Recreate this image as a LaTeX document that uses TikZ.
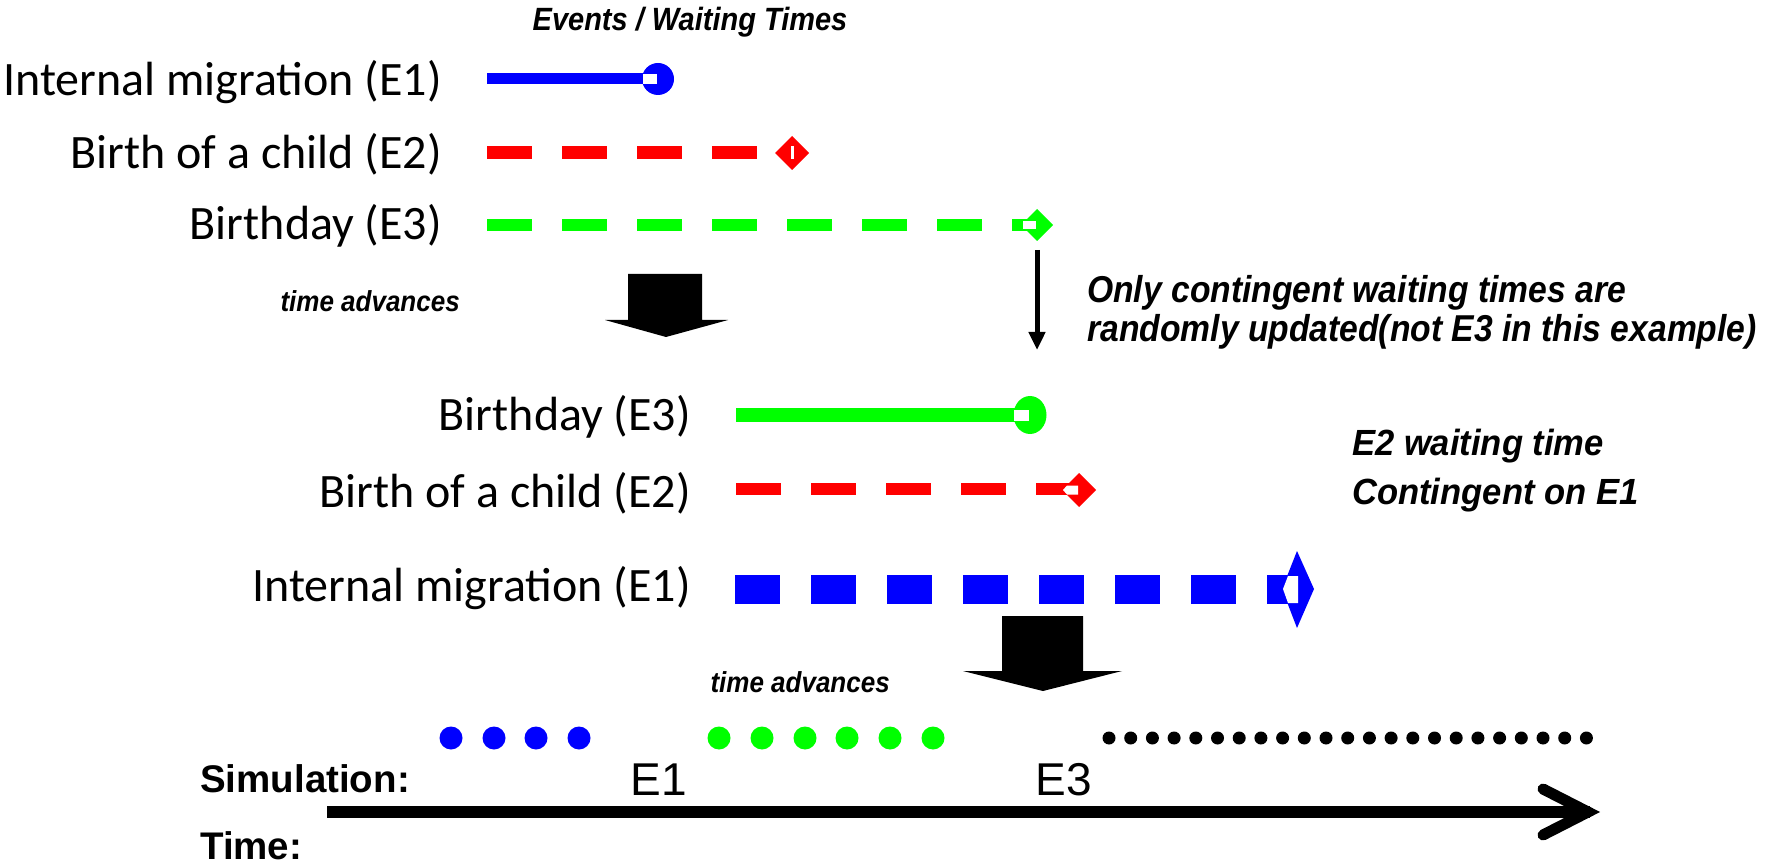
\documentclass[tikz,border=0pt]{standalone}
\usepackage{fontspec}
\setmainfont{Carlito}
\newfontfamily\arialf{Liberation Sans}
\usetikzlibrary{arrows.meta}
\definecolor{pblue}{RGB}{0,0,255}
\definecolor{pred}{RGB}{255,0,0}
\definecolor{pgreen}{RGB}{0,255,0}
\newcommand{\narrowtxt}[1]{\scalebox{0.9}[1]{#1}}
\begin{document}
\begin{tikzpicture}[x=1pt,y=-1pt,
  lab/.style={anchor=base east,inner sep=0pt,font=\fontsize{48}{56}\selectfont},
  bi/.style={inner sep=0pt,font=\arialf\bfseries\itshape\fontsize{#1}{#1}\selectfont},
  bold/.style={inner sep=0pt,anchor=base west,font=\arialf\bfseries\fontsize{38.5}{44}\selectfont},
  ev/.style={inner sep=0pt,anchor=base,font=\arialf\fontsize{46}{52}\selectfont},
  dashline/.style={line width=#1,dash pattern=on 45pt off 30pt},
  hole/.style={fill=white},
  blockarrow/.style={fill=black}]
\useasboundingbox (0,0) rectangle (1767,866);

% title
\node[bi=32.2,anchor=base] (title) at (690,31) {\narrowtxt{Events / Waiting Times}};

% first group labels
\node[lab] (l1) at (442,96) {Internal migration (E1)};
\node[lab] (l2) at (442,169) {Birth of a child (E2)};
\node[lab] (l3) at (442,240) {Birthday (E3)};

% row 1: blue solid with circle end
\coordinate (a1) at (487,79);
\coordinate (m1) at (658,79);
\draw[pblue,line width=11] (a1) -- (m1);
\fill[pblue] (m1) circle (16);
\fill[hole] (643,74) rectangle (657,84);

% row 2: red dashed with diamond
\coordinate (a2) at (487,153);
\coordinate (b2) at (757,153);
\coordinate (m2) at (792,153);
\draw[pred,dashline=13] (a2) -- (b2);
\fill[pred] (775,153) -- (792,136) -- (809,153) -- (792,170) -- cycle;
\fill[hole] (790.5,146) rectangle (793.5,159);

% row 3: green dashed with diamond
\coordinate (a3) at (487,225);
\coordinate (b3) at (1035,225);
\coordinate (m3) at (1037,225);
\draw[pgreen,dashline=12] (a3) -- (b3);
\fill[pgreen] (1021,225) -- (1037,209) -- (1053,225) -- (1037,241) -- cycle;
\fill[hole] (1023,221) rectangle (1036,229);

% thin vertical arrow
\coordinate (v1) at (1037,250);
\coordinate (v2) at (1037,350);
\draw[line width=5,-{Triangle[length=18pt,width=16pt]}] (v1) -- (v2);

\node[bi=37.4,anchor=base west] (note1) at (1087,303) {\narrowtxt{Only contingent waiting times are}};
\node[bi=37.4,anchor=base west] (note2) at (1087,342) {\narrowtxt{randomly updated(not E3 in this example)}};

% first block arrow
\fill[blockarrow] (628,274) -- (702,274) -- (702,320) -- (728,320) -- (666,337) -- (605,320) -- (628,320) -- cycle;
\node[bi=28.9,anchor=base east] (adv1) at (460,312) {\narrowtxt{time advances}};

% second group labels
\node[lab] (l4) at (691,430) {Birthday (E3)};
\node[lab] (l5) at (691,507) {Birth of a child (E2)};
\node[lab] (l6) at (691,601) {Internal migration (E1)};

% row 4: green solid with oval end
\coordinate (a4) at (736,415);
\coordinate (m4) at (1030,415);
\draw[pgreen,line width=13] (a4) -- (m4);
\fill[pgreen] (m4) ellipse [x radius=16.5,y radius=19];
\fill[hole] (1014,410) rectangle (1029,421);

% row 5: red dashed with diamond
\coordinate (a5) at (736,489);
\coordinate (b5) at (1075,489);
\draw[pred,dashline=12] (a5) -- (b5);
\fill[pred] (1062,490) -- (1079,473) -- (1096,490) -- (1079,507) -- cycle;
\fill[hole] (1063,490) -- (1067,485.5) -- (1078,485.5) -- (1078,494.5) -- (1067,494.5) -- cycle;

% row 6: blue thick dashed with elongated diamond
\coordinate (a6) at (735,589);
\coordinate (b6) at (1292,589);
\draw[pblue,line width=29,dash pattern=on 45pt off 31pt] (a6) -- (b6);
\fill[pblue] (1282,589) -- (1297,551) -- (1314,589) -- (1297,628) -- cycle;
\fill[hole] (1283,589) -- (1288,576) -- (1298,576) -- (1298,603) -- (1288,603) -- cycle;

\node[bi=36.4,anchor=base west] (e2a) at (1352,455) {\scalebox{0.95}[1]{E2 waiting time}};
\node[bi=36.4,anchor=base west] (e2b) at (1352,504) {\scalebox{0.95}[1]{Contingent on E1}};

% second block arrow
\fill[blockarrow] (1002,616) -- (1083,616) -- (1083,671) -- (1122,671) -- (1043,691) -- (963,671) -- (1002,671) -- cycle;
\node[bi=28.9,anchor=base east] (adv2) at (890,692) {\narrowtxt{time advances}};

% simulation dots
\foreach \x in {451,494,536,579} \fill[pblue] (\x,738) circle (11.5);
\foreach \x in {719,762,805,847,890,933} \fill[pgreen] (\x,738) circle (11.5);
\foreach \i in {0,...,22} \fill[black] (1109+21.7*\i,738) circle (6.5);

\node[ev] (ev1) at (659,795) {E1};
\node[ev] (ev3) at (1064,795) {E3};
\node[bold] (sim) at (200,792) {Simulation:};
\node[bold] (tim) at (200,859) {Time:};

% time axis
\coordinate (t0) at (327,812);
\coordinate (t1) at (1590,812);
\draw[line width=12] (t0) -- (t1);
\draw[line width=11,line cap=round,line join=miter] (1543,789) -- (1588,812) -- (1543,835);
\end{tikzpicture}
\end{document}
